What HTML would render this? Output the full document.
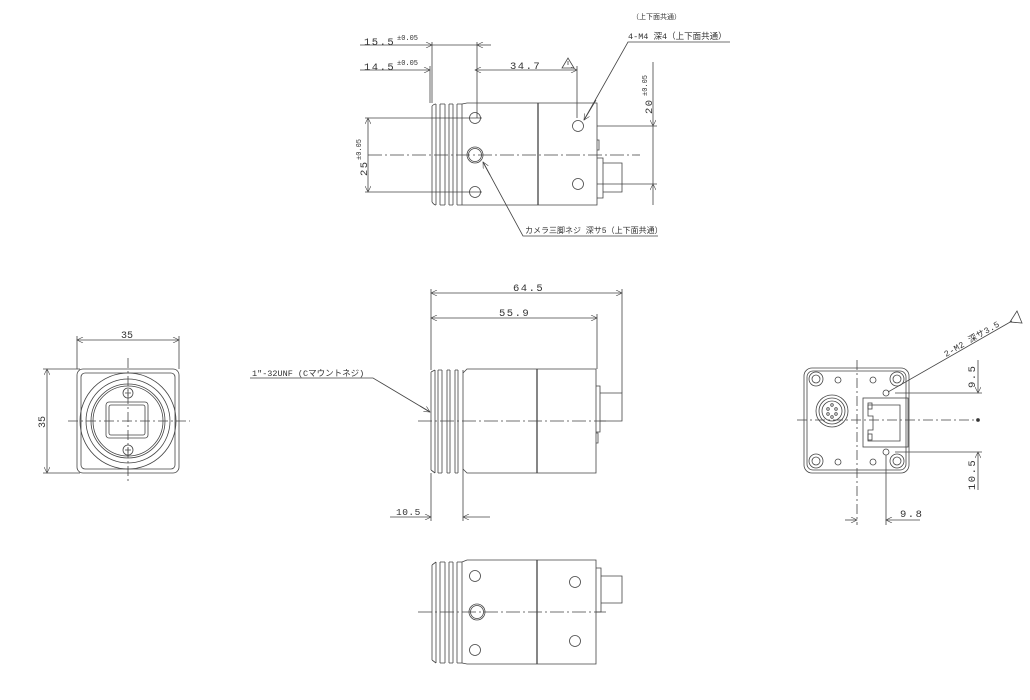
<!DOCTYPE html>
<html><head><meta charset="utf-8"><style>
html,body{margin:0;padding:0;background:#fff}
svg{display:block}
text{font-family:"Liberation Mono","Noto Sans CJK JP",monospace;fill:#333}
</style></head><body>
<svg width="1030" height="700" viewBox="0 0 1030 700" xmlns="http://www.w3.org/2000/svg">
<defs>
<marker id="a" viewBox="0 0 10 10" refX="10" refY="5" markerWidth="8" markerHeight="6" orient="auto-start-reverse" markerUnits="userSpaceOnUse"><path d="M0,0 L10,5 L0,10" fill="none" stroke="#444" stroke-width="1"/></marker>
</defs>
<g fill="none" stroke="#444" stroke-width="0.8">

<!-- ===== TOP VIEW ===== -->
<g>
<path d="M432,106 L432,202 M436,104 L436,205 M440,104 L440,205 M445,104 L445,205 M449,104 L449,205 M453,104 L453,205 M457,104 L457,205 M462,104 L462,205"/>
<path d="M432,106 Q434,104 436,104 M440,104 L445,104 M449,104 L453,104 M457,104 L462,104 M432,202 Q434,205 436,205 M440,205 L445,205 M449,205 L453,205 M457,205 L462,205"/>
<path d="M462,104 L467,103 L597,103 L597,205 L467,205 L462,205"/>
<line x1="538" y1="103" x2="538" y2="205" stroke-width="1.3"/>
<path d="M597,140 L599,140 L599,150 L597,150"/>
<path d="M597,158 L603,158 L603,198 L597,198 M603,163 L622,163 L622,192 L603,192"/>
<circle cx="475" cy="118" r="5.5"/><circle cx="475" cy="192" r="5.5"/>
<circle cx="475" cy="155" r="8"/><circle cx="475" cy="155" r="6.5"/>
<circle cx="578" cy="126" r="5.5"/><circle cx="578" cy="184" r="5.5"/>
<line x1="368" y1="155" x2="640" y2="155" stroke-dasharray="14,3,2,3"/>
<!-- dims -->
<line x1="360" y1="45" x2="432" y2="45" marker-end="url(#a)"/>
<line x1="491" y1="45" x2="477" y2="45" marker-end="url(#a)"/>
<line x1="432" y1="45" x2="477" y2="45"/>
<line x1="432" y1="42" x2="432" y2="103"/>
<line x1="477" y1="42" x2="477" y2="118"/>
<line x1="360" y1="70" x2="430" y2="70" marker-end="url(#a)"/>
<line x1="430" y1="66" x2="430" y2="103"/>
<line x1="475" y1="70" x2="577" y2="70" marker-start="url(#a)" marker-end="url(#a)"/>
<line x1="577" y1="66" x2="577" y2="118"/>
<line x1="368" y1="118" x2="368" y2="192" marker-start="url(#a)" marker-end="url(#a)"/>
<line x1="365" y1="118" x2="482" y2="118"/><line x1="365" y1="192" x2="482" y2="192"/>
<line x1="653" y1="62" x2="653" y2="126" marker-end="url(#a)"/>
<line x1="653" y1="205" x2="653" y2="184" marker-end="url(#a)"/>
<line x1="653" y1="126" x2="653" y2="184"/>
<line x1="597" y1="126" x2="657" y2="126"/><line x1="597" y1="184" x2="657" y2="184"/>
<polyline points="730,42 628,42 584,120" />
<line x1="596" y1="100" x2="584" y2="120" marker-end="url(#a)"/>
<polyline points="658,236 523,236 483,162"/>
<line x1="490" y1="175" x2="483" y2="162" marker-end="url(#a)"/>
<path d="M562,68 L568,58 L574,68 Z"/>
<path d="M568,61 L568,65"/>
</g>

<!-- ===== MIDDLE SIDE VIEW ===== -->
<g>
<path d="M431,372 L431,470 M435,370 L435,473 M438,370 L438,473 M442,370 L442,473 M447,370 L447,473 M450,370 L450,473 M455,370 L455,473 M458,370 L458,473 M463,370 L463,473"/>
<path d="M431,372 L435,370 M438,370 L442,370 M447,370 L450,370 M455,370 L458,370 M431,470 L435,473 M438,473 L442,473 M447,473 L450,473 M455,473 L458,473"/>
<path d="M463,373 L467,369 L596,369 L596,473 L467,473 L463,469"/>
<line x1="537" y1="369" x2="537" y2="473" stroke-width="1.3"/>
<path d="M596,386 L600,386 L600,432 L596,432 M600,393 L622,393 L622,421 L600,421"/>
<path d="M596,433 L598,433 L598,443 L596,443"/>
<line x1="418" y1="421" x2="606" y2="421" stroke-dasharray="14,3,2,3"/>
<line x1="431" y1="293" x2="622" y2="293" marker-start="url(#a)" marker-end="url(#a)"/>
<line x1="431" y1="289" x2="431" y2="370"/>
<line x1="622" y1="289" x2="622" y2="393"/>
<line x1="431" y1="318" x2="597" y2="318" marker-start="url(#a)" marker-end="url(#a)"/>
<line x1="597" y1="314" x2="597" y2="369"/>
<line x1="390" y1="517" x2="431" y2="517" marker-end="url(#a)"/>
<line x1="490" y1="517" x2="463" y2="517" marker-end="url(#a)"/>
<line x1="431" y1="473" x2="431" y2="521"/><line x1="463" y1="473" x2="463" y2="521"/>
<polyline points="250,378 373,378 430,412"/>
<line x1="420" y1="406" x2="430" y2="412" marker-end="url(#a)"/>
</g>

<!-- ===== FRONT VIEW (left) ===== -->
<g>
<rect x="77" y="369" width="102" height="104" rx="6"/>
<rect x="81" y="373" width="94" height="96" rx="4"/>
<circle cx="128" cy="421" r="48"/>
<circle cx="128" cy="421" r="42"/>
<circle cx="128" cy="421" r="37"/>
<circle cx="128" cy="421" r="35"/>
<rect x="106" y="402" width="42" height="36" rx="3"/>
<rect x="109" y="405" width="36" height="30" rx="2"/>
<circle cx="128" cy="393" r="5"/><circle cx="128" cy="450" r="5"/>
<path d="M125,393 h6 M128,390 v6 M125,450 h6 M128,447 v6"/>
<line x1="128" y1="358" x2="128" y2="482" stroke-dasharray="10,3,2,3"/>
<line x1="68" y1="421" x2="190" y2="421" stroke-dasharray="10,3,2,3"/>
<line x1="77" y1="340" x2="179" y2="340" marker-start="url(#a)" marker-end="url(#a)"/>
<line x1="77" y1="336" x2="77" y2="369"/><line x1="179" y1="336" x2="179" y2="369"/>
<line x1="47" y1="369" x2="47" y2="473" marker-start="url(#a)" marker-end="url(#a)"/>
<line x1="43" y1="369" x2="80" y2="369"/><line x1="43" y1="473" x2="80" y2="473"/>
</g>

<!-- ===== REAR VIEW (right) ===== -->
<g>
<rect x="804" y="368" width="105" height="105" rx="8"/>
<rect x="807" y="371" width="99" height="99" rx="6"/>
<circle cx="816" cy="379" r="7"/><circle cx="816" cy="379" r="4"/>
<circle cx="897" cy="379" r="7"/><circle cx="897" cy="379" r="4"/>
<circle cx="816" cy="461" r="7"/><circle cx="816" cy="461" r="4"/>
<circle cx="897" cy="461" r="7"/><circle cx="897" cy="461" r="4"/>
<circle cx="838" cy="380" r="3"/><circle cx="873" cy="380" r="3"/>
<circle cx="838" cy="462" r="3"/><circle cx="873" cy="462" r="3"/>
<circle cx="832" cy="411" r="16"/><circle cx="832" cy="411" r="13"/><circle cx="832" cy="411" r="10"/>
<circle cx="832" cy="405" r="1.3"/><circle cx="828" cy="409" r="1.3"/><circle cx="836" cy="409" r="1.3"/><circle cx="828" cy="414" r="1.3"/><circle cx="836" cy="414" r="1.3"/><circle cx="832" cy="417" r="1.3"/>
<rect x="863" y="398" width="45" height="49"/>
<path d="M868,405 L900,405 L900,441 L868,441 L868,430 L873,430 L873,416 L868,416 Z"/>
<rect x="868" y="403" width="4" height="6"/><rect x="868" y="434" width="4" height="6"/>
<circle cx="886" cy="393" r="3"/><circle cx="886" cy="452" r="3"/>
<line x1="857" y1="360" x2="857" y2="525" stroke-dasharray="10,3,2,3"/>
<line x1="797" y1="420" x2="975" y2="420" stroke-dasharray="10,3,2,3"/>
<line x1="978" y1="360" x2="978" y2="393" marker-end="url(#a)"/>
<line x1="978" y1="490" x2="978" y2="452" marker-end="url(#a)"/>
<line x1="895" y1="393" x2="982" y2="393"/><line x1="895" y1="452" x2="982" y2="452"/>
<line x1="886" y1="455" x2="886" y2="525"/>
<line x1="845" y1="520" x2="857" y2="520" marker-end="url(#a)"/>
<line x1="920" y1="520" x2="886" y2="520" marker-end="url(#a)"/>
<line x1="888" y1="392" x2="1012" y2="321"/>
</g>
<circle cx="978" cy="420" r="1.5" fill="#333"/>

<!-- ===== BOTTOM VIEW ===== -->
<g>
<path d="M432,565 L432,660 M436,562 L436,663 M440,562 L440,663 M445,562 L445,663 M449,562 L449,663 M453,562 L453,663 M457,562 L457,663 M462,562 L462,663"/>
<path d="M432,565 L436,562 M440,562 L445,562 M449,562 L453,562 M457,562 L462,562 M432,660 L436,663 M440,663 L445,663 M449,663 L453,663 M457,663 L462,663"/>
<path d="M462,562 L467,560 L596,560 L596,664 L467,664 L462,663"/>
<line x1="537" y1="560" x2="537" y2="664" stroke-width="1.3"/>
<path d="M596,568 L601,568 L601,612 L596,612 M601,576 L622,576 L622,603 L601,603"/>
<circle cx="475" cy="576" r="5.5"/><circle cx="475" cy="650" r="5.5"/>
<circle cx="477" cy="612" r="8"/><circle cx="477" cy="612" r="6.5"/>
<circle cx="575" cy="582" r="5.5"/><circle cx="575" cy="641" r="5.5"/>
<line x1="418" y1="612" x2="606" y2="612" stroke-dasharray="14,3,2,3"/>
</g>
</g>

<!-- ===== TEXT ===== -->
<g font-size="10.5" letter-spacing="1.5">
<text x="364" y="45">15.5</text><text x="397" y="40" font-size="7" letter-spacing="0">±0.05</text>
<text x="364" y="70">14.5</text><text x="397" y="65" font-size="7" letter-spacing="0">±0.05</text>
<text x="510" y="69">34.7</text>
<text font-size="7" letter-spacing="0" x="632" y="19">（上下面共通）</text>
<text font-size="8.5" letter-spacing="0" x="628" y="39">4-M4 深4（上下面共通）</text>
<text font-size="8" letter-spacing="0" x="525" y="233">カメラ三脚ネジ 深サ5（上下面共通）</text>
<text transform="translate(367,176) rotate(-90)">25</text>
<text transform="translate(361,160) rotate(-90)" font-size="7" letter-spacing="0">±0.05</text>
<text transform="translate(652,114) rotate(-90)">20</text>
<text transform="translate(647,96) rotate(-90)" font-size="7" letter-spacing="0">±0.05</text>
<text x="513" y="291">64.5</text>
<text x="499" y="316">55.9</text>
<text x="396" y="515" font-size="9.5" letter-spacing="0.5">10.5</text>
<text font-size="8.5" letter-spacing="0" x="252" y="376">1"-32UNF (Cマウントネジ)</text>
<text x="121" y="338" font-size="10" letter-spacing="0">35</text>
<text transform="translate(45,428) rotate(-90)" font-size="10" letter-spacing="0">35</text>
<text transform="translate(975,388) rotate(-90)">9.5</text>
<text transform="translate(975,490) rotate(-90)">10.5</text>
<text x="900" y="517">9.8</text>
<text transform="translate(946,357) rotate(-30)" font-size="8.5" letter-spacing="0.5">2-M2 深サ3.5</text>
</g>
<path d="M1010,322 L1017,311 L1022,323 Z" fill="none" stroke="#444" stroke-width="0.8"/>
</svg>
</body></html>
